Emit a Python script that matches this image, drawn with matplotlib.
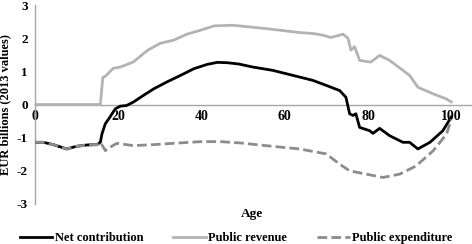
import matplotlib
matplotlib.use("Agg")
import matplotlib.pyplot as plt

# Ages (knots) and values, EUR billions
net_age = [0, 2, 4.4, 7.6, 10, 12.5, 14.9, 15.7, 16.1, 16.9, 18, 19.3, 20.5, 22, 23.6, 26, 28.5,
           31.7, 35, 38.2, 41.4, 43.8, 46.2, 49, 52.3, 57.1, 63.5, 66.7, 69.9, 73.2, 74.7,
           75.6, 76.4, 77.1, 78, 80.4, 81.2, 82.8, 85.2, 88.4, 90, 92, 94.9, 98, 100]
net_val = [-1.14, -1.14, -1.21, -1.34, -1.26, -1.22, -1.21, -1.14, -0.88, -0.58, -0.38, -0.13,
           -0.05, -0.03, 0.07, 0.27, 0.47, 0.68, 0.88, 1.08, 1.21, 1.27, 1.26, 1.22, 1.13,
           1.03, 0.83, 0.73, 0.58, 0.42, 0.22, -0.28, -0.33, -0.28, -0.69, -0.79, -0.87,
           -0.72, -0.94, -1.14, -1.14, -1.34, -1.14, -0.79, -0.38]

rev_age = [0, 15.7, 16.3, 16.9, 18.8, 20.5, 23.6, 27, 30, 33.3, 36.5, 39.8, 43, 47.5, 55.4,
           63.5, 66.8, 69.2, 71.1, 74, 75.2, 75.9, 76.8, 78, 80.7, 82.8, 85.2, 90, 92, 95.7,
           98.8, 100]
rev_val = [0, 0, 0.82, 0.85, 1.09, 1.13, 1.28, 1.63, 1.84, 1.94, 2.12, 2.24, 2.37, 2.39, 2.29,
           2.17, 2.14, 2.09, 2.02, 2.12, 2.0, 1.64, 1.74, 1.33, 1.28, 1.48, 1.33, 0.88, 0.52,
           0.32, 0.17, 0.08]

exp_age = [0, 2, 4.4, 7.6, 10, 12.5, 14.9, 15.7, 16.9, 18, 19.7, 23.6, 28.5, 33.3, 39.8, 44.6,
           49.4, 55.4, 63.5, 70, 73.2, 75.6, 79.6, 83.6, 87.6, 91.6, 95.7, 98.9, 100]
exp_val = [-1.14, -1.14, -1.21, -1.34, -1.26, -1.22, -1.21, -1.14, -1.39, -1.29, -1.17, -1.24,
           -1.21, -1.17, -1.12, -1.12, -1.16, -1.24, -1.34, -1.49, -1.80, -2.0, -2.1, -2.2,
           -2.1, -1.85, -1.39, -0.89, -0.45]

x_ticks = [0, 20, 40, 60, 80, 100]
y_ticks = [-3, -2, -1, 0, 1, 2, 3]

plt.rcParams["font.family"] = ["Liberation Serif", "DejaVu Serif"]
plt.rcParams["font.weight"] = "bold"
FS = 9.5

fig = plt.figure(figsize=(4.72, 2.44), dpi=100)
ax = fig.add_axes([35 / 472, 40 / 244, 437 / 472, 199 / 244])

ax.plot(rev_age, rev_val, color="#b3b3b3", lw=2.0, label="Public revenue", zorder=2)
ax.plot(net_age, net_val, color="black", lw=2.0, label="Net contribution", zorder=3)
ax.plot(exp_age, exp_val, color="#8c8c8c", lw=2.0, ls=(0, (3.5, 1.5)), label="Public expenditure", zorder=4)

ax.set_xlim(0, 105)
ax.set_ylim(-3, 3)
ax.set_xticks(x_ticks)
ax.set_yticks(y_ticks)
ax.set_xticklabels([str(t) for t in x_ticks], fontsize=FS, fontweight="bold")
ax.set_yticklabels([str(t) for t in y_ticks], fontsize=FS, fontweight="bold")
ax.tick_params(axis="both", length=0)
ax.tick_params(axis="y", pad=5)
ax.tick_params(axis="x", pad=4)

for s in ["top", "right"]:
    ax.spines[s].set_visible(False)
ax.spines["bottom"].set_position(("data", 0))
ax.spines["bottom"].set_color("#a6a6a6")
ax.spines["left"].set_color("#a6a6a6")
ax.spines["bottom"].set_linewidth(1.0)
ax.spines["left"].set_linewidth(1.0)
ax.spines["bottom"].set_zorder(1)

ax.set_ylabel("EUR billions (2013 values)", fontsize=9, fontweight="bold", labelpad=4)
fig.text(252 / 472, 1 - 214 / 244, "Age", ha="center", va="center", fontsize=FS, fontweight="bold")

handles, labels = ax.get_legend_handles_labels()
order = [1, 0, 2]
fig.legend([handles[i] for i in order], [labels[i] for i in order], loc="center",
           bbox_to_anchor=(0.5, 1 - 238 / 244), ncol=3, frameon=False, fontsize=9,
           handlelength=2.6, handletextpad=0.2, columnspacing=2.4, borderaxespad=0,
           borderpad=0)

fig.savefig("out.png", dpi=100)
